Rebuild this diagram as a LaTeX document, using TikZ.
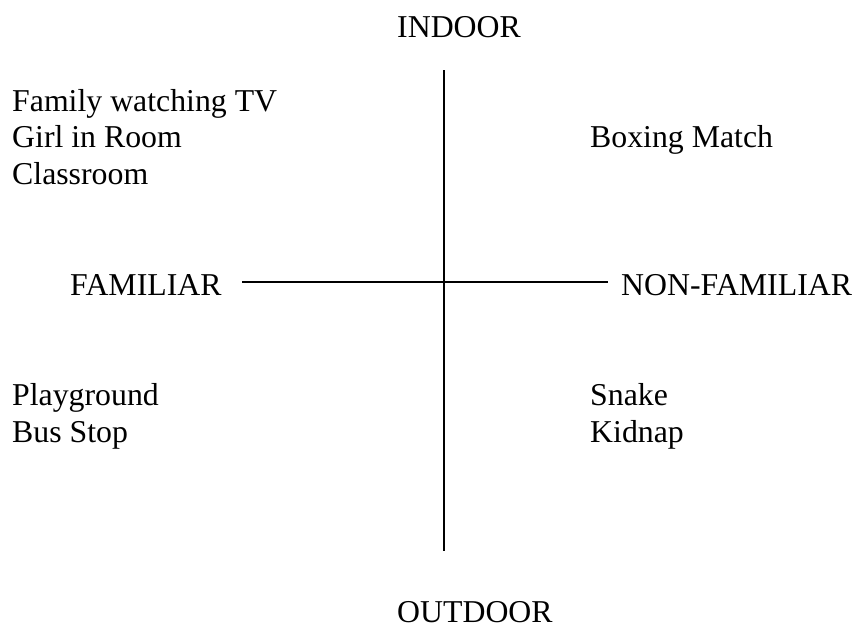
\documentclass[tikz,border=0pt]{standalone}
\usepackage{fontspec}
\setmainfont{Liberation Serif}
\usetikzlibrary{positioning}

\begin{document}
\begin{tikzpicture}[
    x=1pt, y=-1pt,
    item/.style={anchor=base west, inner sep=0pt, font=\fontsize{31.8}{36}\selectfont},
    axisline/.style={line width=1.3pt},
    crossline/.style={line width=2pt}
]
    \useasboundingbox (0,0) rectangle (857,629);

    % axis ends
    \node[item] (indoor) at (397,37) {INDOOR};
    \node[item] (outdoor) at (397,622) {OUTDOOR};
    \node[item] (familiar) at (70,295) {FAMILIAR};
    \node[item] (nonfamiliar) at (621,295) {NON-FAMILIAR};

    % quadrants
    \node[item] (family) at (12,111) {Family watching TV};
    \node[item] (girl) at (12,147.5) {Girl in Room};
    \node[item] (classroom) at (12,184) {Classroom};
    \node[item] (boxing) at (590,147.5) {Boxing Match};
    \node[item] (playground) at (12,405) {Playground};
    \node[item] (busstop) at (12,442) {Bus Stop};
    \node[item] (snake) at (590,405) {Snake};
    \node[item] (kidnap) at (590,442) {Kidnap};

    \coordinate (top) at (444,70);
    \coordinate (bottom) at (444,551);
    \coordinate (left) at (242,282);
    \coordinate (right) at (608,282);

    \draw[axisline] (top) -- (bottom);
    \draw[crossline] (left) -- (right);
\end{tikzpicture}
\end{document}
